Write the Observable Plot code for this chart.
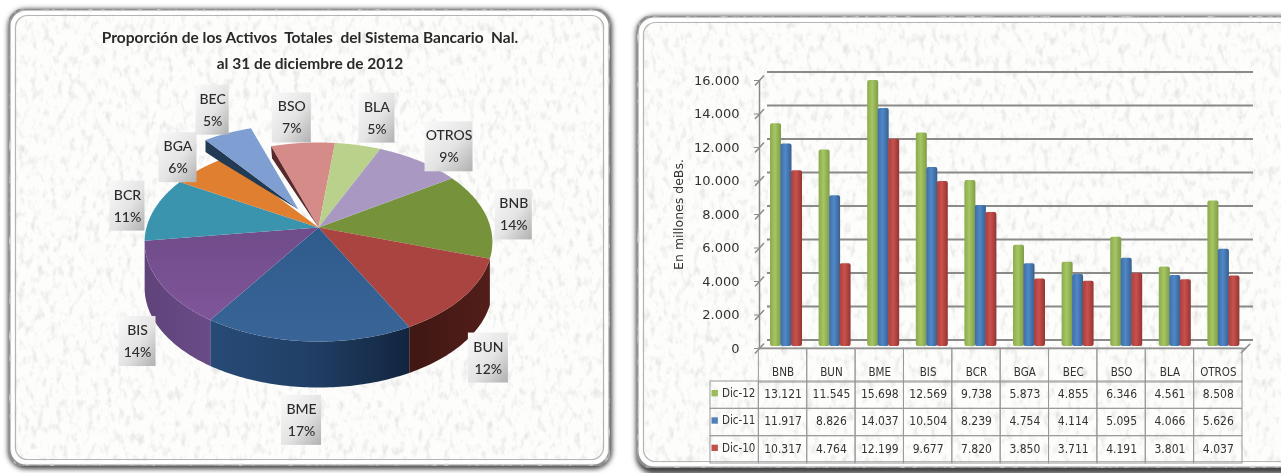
<!DOCTYPE html>
<html lang="es">
<head>
<meta charset="utf-8">
<title>Activos del Sistema Bancario</title>
<script src="https://cdn.jsdelivr.net/npm/d3@7"></script>
<script src="https://cdn.jsdelivr.net/npm/@observablehq/plot@0.6"></script>
<style>
  html,body{margin:0;padding:0;background:#fff;overflow:hidden}
  #stage{position:relative;width:1281px;height:473px;overflow:hidden;filter:blur(.5px)}
  #stage>svg,#stage>.t{position:absolute}
  .t{font-family:Lato,sans-serif;font-weight:700;font-size:15.5px;color:#2a2a2a;white-space:pre;text-align:center;transform:translateX(-50%)}
  g[aria-label="box"] rect{filter:drop-shadow(1px 2px 1.5px rgba(60,60,60,.6))}
</style>
</head>
<body>
<div id="stage">
<svg width="1281" height="473" style="left:0;top:0">
  <defs>
    <filter id="tex" x="0" y="0" width="100%" height="100%">
      <feTurbulence type="fractalNoise" baseFrequency="0.16 0.09" numOctaves="3" seed="7"/>
      <feColorMatrix type="matrix" values="0 0 0 0 .74  0 0 0 0 .74  0 0 0 0 .72  2.2 0 0 0 -1.12"/>
      <feComposite in2="SourceAlpha" operator="in" result="n"/>
      <feMerge><feMergeNode in="SourceGraphic"/><feMergeNode in="n"/></feMerge>
    </filter>
    <filter id="sh" x="-3%" y="-3%" width="106%" height="106%"><feGaussianBlur stdDeviation="2.4"/></filter>
    <linearGradient id="g12" x1="0" x2="1" y1="0" y2="0"><stop offset="0" stop-color="#8bab4c"/><stop offset=".45" stop-color="#a6c664"/><stop offset="1" stop-color="#7f9c45"/></linearGradient>
    <linearGradient id="g11" x1="0" x2="1" y1="0" y2="0"><stop offset="0" stop-color="#3f6ea8"/><stop offset=".45" stop-color="#5088c8"/><stop offset="1" stop-color="#36608f"/></linearGradient>
    <linearGradient id="g10" x1="0" x2="1" y1="0" y2="0"><stop offset="0" stop-color="#a83f3c"/><stop offset=".45" stop-color="#c9514e"/><stop offset="1" stop-color="#933532"/></linearGradient>
    <linearGradient id="wBME" x1="0" x2="1" y1="0" y2="0"><stop offset="0" stop-color="#274b76"/><stop offset=".5" stop-color="#213f66"/><stop offset="1" stop-color="#12253f"/></linearGradient>
    <linearGradient id="wBIS" x1="0" x2="1" y1="0" y2="0"><stop offset="0" stop-color="#5f4379"/><stop offset="1" stop-color="#6a4b88"/></linearGradient>
    <linearGradient id="wBUN" x1="0" x2="1" y1="0" y2="0"><stop offset="0" stop-color="#401713"/><stop offset="1" stop-color="#521e1a"/></linearGradient>
    <linearGradient id="tBME" x1="0" x2="0" y1="0" y2="1"><stop offset="0" stop-color="#2f5b8c"/><stop offset="1" stop-color="#396497"/></linearGradient>
    <linearGradient id="tBIS" x1="0" x2="0" y1="0" y2="1"><stop offset="0" stop-color="#6f4c8a"/><stop offset="1" stop-color="#7f5599"/></linearGradient>
    <linearGradient id="lbl" x1="0" x2="1" y1="0" y2="1"><stop offset="0" stop-color="#fafafa"/><stop offset=".55" stop-color="#e4e4e4"/><stop offset="1" stop-color="#b0b0b0"/></linearGradient>
  </defs>
  <rect x="8" y="9" width="604" height="460" rx="18" fill="#444" filter="url(#sh)"/>
  <rect x="9" y="9" width="601" height="457" rx="17" fill="#fdfdfc" stroke="#8f8f8f" stroke-width="3" filter="url(#tex)"/>
  <rect x="13" y="13" width="593" height="449" rx="14" fill="none" stroke="#fff" stroke-width="2.5"/>
  <rect x="15.5" y="15.5" width="588" height="444" rx="12" fill="none" stroke="#b5b5b5" stroke-width="1.2"/>
  <rect x="636" y="16" width="664" height="458" rx="18" fill="#444" filter="url(#sh)"/>
  <rect x="637" y="16" width="660" height="452" rx="17" fill="#fdfdfc" stroke="#8f8f8f" stroke-width="3" filter="url(#tex)"/>
  <rect x="641" y="20" width="652" height="444" rx="14" fill="none" stroke="#fff" stroke-width="2.5"/>
  <rect x="643.5" y="22.5" width="647" height="439" rx="12" fill="none" stroke="#b5b5b5" stroke-width="1.2"/>
</svg>
<div class="t" style="left:310px;top:28px">Proporción de los Activos  Totales  del Sistema Bancario  Nal.</div>
<div class="t" style="left:310px;top:54px">al 31 de diciembre de 2012</div>
</div>
<script>
// ---- data ----
const categories = ["BNB","BUN","BME","BIS","BCR","BGA","BEC","BSO","BLA","OTROS"];
const dic12 = [13121,11545,15698,12569,9738,5873,4855,6346,4561,8508];
const dic11 = [11917,8826,14037,10504,8239,4754,4114,5095,4066,5626];
const dic10 = [10317,4764,12199,9677,7820,3850,3711,4191,3801,4037];
const sharePct = ["14%","12%","17%","14%","11%","6%","5%","7%","5%","9%"];
const yTicks = [0,2000,4000,6000,8000,10000,12000,14000,16000];
const seriesNames = ["Dic-12","Dic-11","Dic-10"];

// ---- styles ----
const sliceColors = ["#76933c","#aa4441","url(#tBME)","url(#tBIS)","#3b94ae","#e07f2f","#7f9fd2","#d58b88","#bad18c","#a999c2"];
const wallColors = {BUN:"url(#wBUN)",BME:"url(#wBME)",BIS:"url(#wBIS)"};
const seriesFill = ["url(#g12)","url(#g11)","url(#g10)"];
const keyFill = ["#9bbb59","#4f81bd","#c0504d"];
const seriesInset = [11,21.5,32];
const BARW = 11;
const condensed = '"DejaVu Sans Condensed","DejaVu Sans",sans-serif';
const dotted = d => d3.format(",")(d).replace(/,/g,".");
const stage = document.getElementById("stage");
function place(el,left,top){el.style.left=left+"px";el.style.top=top+"px";stage.appendChild(el);}

// ---- pie: perspective disc driven by the share of each bank ----
const total = d3.sum(dic12);
const firstAngle = 57, depth = 46, K = .146;
const cx = 318, cy = 227, A = 172, B = 97.4;
function proj(deg,r=1){
  const t = deg*Math.PI/180, u = r*Math.sin(t), v = -r*Math.cos(t), d = 1-K*v;
  return {x:cx+A*u/d, y:cy+B*v/d};
}
const arcPts = (a,b) => d3.range(0,61).map(i=>proj(a+(b-a)*i/60));
let acc = firstAngle;
const slices = categories.map((c,i)=>{const a=acc,b=acc+dic12[i]/total*360;acc=b;return {c,i,a,b,mid:(a+b)/2};});
const labelNudge = [[28,0],[25,61],[-6,79],[-23,58],[-27,-3],[-23,-11],[-35,-41],[-11,-25],[19,-27],[30,-14]];
const boxW = [37,40,40,37,35,38,33,39,36,48];
const labels = slices.map((s,i)=>{const p=proj(s.mid);return {c:s.c,pct:sharePct[i],x:p.x+labelNudge[i][0],y:p.y+labelNudge[i][1],w:boxW[i]};});

const pieMarks = [];
for (const s of slices){
  if (!wallColors[s.c]) continue;
  const top=arcPts(s.a,s.b), bot=top.map(p=>({x:p.x,y:p.y+depth})).reverse();
  pieMarks.push(Plot.line([...top,...bot,top[0]],{x:"x",y:"y",fill:wallColors[s.c]}));
}
const wedge = (s,ox=0,oy=0) => [{x:cx,y:cy},...arcPts(s.a,s.b),{x:cx,y:cy}].map(p=>({x:p.x+ox,y:p.y+oy}));
for (const s of slices){
  if (s.c==="BEC") continue;
  pieMarks.push(Plot.line(wedge(s),{x:"x",y:"y",fill:sliceColors[s.i]}));
}
// cut faces beside the pulled-out slice
const bso = slices[7], bec = slices[6], ex=-20, ey=-18;
const bsoTip = proj(bso.a);
pieMarks.push(Plot.line([{x:cx,y:cy},bsoTip,{x:bsoTip.x+1,y:bsoTip.y+12},{x:cx,y:cy}],{x:"x",y:"y",fill:"#58282a"}));
const becTip = proj(bec.a);
const becTipX = {x:becTip.x+ex,y:becTip.y+ey};
pieMarks.push(Plot.line([{x:cx+ex,y:cy+ey},becTipX,{x:becTipX.x,y:becTipX.y+12},{x:becTipX.x+15,y:becTipX.y+22},{x:cx+ex,y:cy+ey}],{x:"x",y:"y",fill:"#233a55"}));
pieMarks.push(Plot.line(wedge(bec,ex,ey),{x:"x",y:"y",fill:sliceColors[6]}));
pieMarks.push(Plot.rect(labels,{x1:d=>d.x-d.w/2,x2:d=>d.x+d.w/2,y1:d=>d.y-25,y2:d=>d.y+25,fill:"url(#lbl)",ariaLabel:"box"}));
pieMarks.push(Plot.text(labels,{x:"x",y:"y",text:"c",dy:-11,fontSize:14,fontFamily:"Lato,sans-serif",fontWeight:500,fill:"#2b2b2b"}));
pieMarks.push(Plot.text(labels,{x:"x",y:"y",text:"pct",dy:11,fontSize:14,fontFamily:"Lato,sans-serif",fontWeight:500,fill:"#2b2b2b"}));

place(Plot.plot({
  width:620,height:473,margin:0,
  x:{domain:[0,620],range:[0,620],axis:null},
  y:{domain:[0,473],range:[0,473],axis:null},
  style:{background:"transparent",overflow:"visible"},
  marks:pieMarks
}),0,0);

// ---- bars ----
const barRows = s => categories.map((c,i)=>({c,v:[dic12,dic11,dic10][s][i]}));
const STEP = 48.6, FRAMEL = 129, FRAMER = 36;
const spike = {draw(ctx,l){ctx.moveTo(0,0);ctx.lineTo(0,-l);}};
const barMarks = [
  Plot.ruleY(yTicks,{y:d=>d,dx:8,dy:-8.5,stroke:"#8a8a8a",strokeWidth:2}),
  Plot.frame({anchor:"left",stroke:"#8a8a8a",strokeWidth:1.5}),
  Plot.frame({anchor:"bottom",stroke:"#8a8a8a",strokeWidth:1.5}),
  Plot.vector(yTicks,{y:d=>d,frameAnchor:"left",rotate:43,length:12,shape:spike,stroke:"#8a8a8a",strokeWidth:1.5}),
  Plot.vector([0],{y:d=>d,frameAnchor:"right",rotate:45,length:12,shape:spike,stroke:"#8a8a8a",strokeWidth:1.5}),
  Plot.axisY({ticks:yTicks,tickFormat:dotted,tickSize:5,tickPadding:15,stroke:"#8a8a8a",fontSize:13,fontFamily:'"DejaVu Sans",sans-serif',fill:"#333",label:null}),
  Plot.text(["En millones deBs."],{text:d=>d,frameAnchor:"left",textAnchor:"middle",dx:-81,rotate:-90,fontSize:12.5,fontFamily:'"DejaVu Sans",sans-serif',fill:"#333",style:"letter-spacing:.8px"})
];
seriesNames.forEach((n,s)=>{
  barMarks.push(Plot.barY(barRows(s),{x:"c",y:"v",fill:seriesFill[s],insetLeft:seriesInset[s],insetRight:STEP-seriesInset[s]-BARW,dy:-5,insetBottom:-3,rx:2}));
});
place(Plot.plot({
  width:651,height:473,marginLeft:FRAMEL,marginRight:FRAMER,marginTop:80,marginBottom:125,
  x:{domain:categories,padding:0,round:false,axis:null,range:[FRAMEL,651-FRAMER]},
  y:{domain:[0,16000],axis:null},
  style:{background:"transparent",overflow:"visible"},
  marks:barMarks
}),630,0);

// ---- table under the bars ----
const tableX = ["",...categories];
const cell = {fill:"none",stroke:"#9a9a9a",strokeWidth:1};
const txt = {fontSize:12,fontFamily:condensed,fill:"#333"};
place(Plot.plot({
  width:534,height:34,margin:0,
  x:{domain:tableX,padding:0,round:false,axis:null,range:[0,532]},
  y:{axis:null,domain:[0,1],range:[33,0]},
  style:{background:"transparent",overflow:"visible"},
  marks:[
    Plot.cell(categories,{x:d=>d,...cell}),
    Plot.text(categories,{x:d=>d,text:d=>d,dy:7,frameAnchor:"middle",...txt,fontSize:11.5})
  ]
}),710,348);

const body = [];
seriesNames.forEach((n,s)=>categories.forEach((c,i)=>body.push({c,n,v:[dic12,dic11,dic10][s][i]})));
place(Plot.plot({
  width:534,height:83,margin:0,
  x:{domain:tableX,padding:0,round:false,axis:null,range:[0,532]},
  y:{domain:seriesNames,padding:0,round:false,axis:null,range:[0,82]},
  style:{background:"transparent",overflow:"visible"},
  marks:[
    Plot.cell(body,{x:"c",y:"n",...cell}),
    Plot.cell(seriesNames,{x:()=>"",y:d=>d,...cell}),
    Plot.text(body,{x:"c",y:"n",text:d=>dotted(d.v),dy:-1,...txt}),
    Plot.dot(seriesNames,{x:()=>"",y:d=>d,symbol:"square",r:3.6,dx:-20,dy:-2,fill:(d,i)=>keyFill[i]}),
    Plot.text(seriesNames,{x:()=>"",y:d=>d,text:d=>d,dx:4,dy:-2,...txt,fontSize:11.5})
  ]
}),710,381);
</script>
</body>
</html>
